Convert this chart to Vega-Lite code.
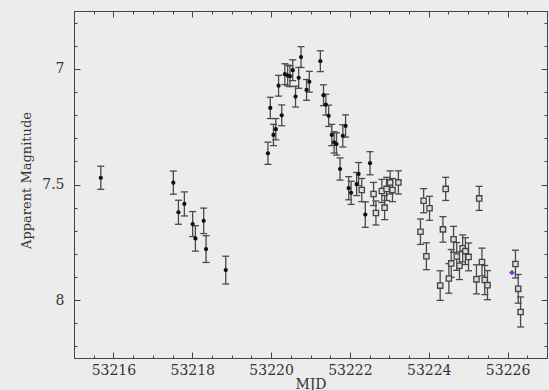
{
  "$schema": "https://vega.github.io/schema/vega-lite/v6.json",
  "width": 473,
  "height": 347,
  "autosize": "none",
  "padding": {"left": 74, "top": 11, "right": 2, "bottom": 32},
  "background": "#ececec",
  "config": {"view": {"stroke": null}},
  "datasets": {
    "obs": [
      {"mjd": 53215.68, "mag": 7.471, "lo": 7.421, "hi": 7.521, "kind": "filled"},
      {"mjd": 53217.52, "mag": 7.492, "lo": 7.442, "hi": 7.542, "kind": "filled"},
      {"mjd": 53217.65, "mag": 7.620, "lo": 7.568, "hi": 7.672, "kind": "filled"},
      {"mjd": 53217.80, "mag": 7.584, "lo": 7.532, "hi": 7.636, "kind": "filled"},
      {"mjd": 53218.01, "mag": 7.671, "lo": 7.617, "hi": 7.725, "kind": "filled"},
      {"mjd": 53218.08, "mag": 7.733, "lo": 7.678, "hi": 7.788, "kind": "filled"},
      {"mjd": 53218.29, "mag": 7.657, "lo": 7.602, "hi": 7.712, "kind": "filled"},
      {"mjd": 53218.35, "mag": 7.779, "lo": 7.721, "hi": 7.837, "kind": "filled"},
      {"mjd": 53218.85, "mag": 7.870, "lo": 7.810, "hi": 7.930, "kind": "filled"},
      {"mjd": 53219.92, "mag": 7.365, "lo": 7.317, "hi": 7.413, "kind": "filled"},
      {"mjd": 53219.98, "mag": 7.169, "lo": 7.123, "hi": 7.215, "kind": "filled"},
      {"mjd": 53220.06, "mag": 7.286, "lo": 7.240, "hi": 7.332, "kind": "filled"},
      {"mjd": 53220.12, "mag": 7.261, "lo": 7.215, "hi": 7.307, "kind": "filled"},
      {"mjd": 53220.19, "mag": 7.073, "lo": 7.028, "hi": 7.118, "kind": "filled"},
      {"mjd": 53220.27, "mag": 7.201, "lo": 7.156, "hi": 7.246, "kind": "filled"},
      {"mjd": 53220.35, "mag": 7.023, "lo": 6.978, "hi": 7.068, "kind": "filled"},
      {"mjd": 53220.42, "mag": 7.029, "lo": 6.984, "hi": 7.074, "kind": "filled"},
      {"mjd": 53220.48, "mag": 7.032, "lo": 6.987, "hi": 7.077, "kind": "filled"},
      {"mjd": 53220.55, "mag": 7.006, "lo": 6.961, "hi": 7.051, "kind": "filled"},
      {"mjd": 53220.62, "mag": 7.120, "lo": 7.075, "hi": 7.165, "kind": "filled"},
      {"mjd": 53220.70, "mag": 7.039, "lo": 6.994, "hi": 7.084, "kind": "filled"},
      {"mjd": 53220.76, "mag": 6.949, "lo": 6.904, "hi": 6.994, "kind": "filled"},
      {"mjd": 53220.90, "mag": 7.091, "lo": 7.046, "hi": 7.136, "kind": "filled"},
      {"mjd": 53220.97, "mag": 7.056, "lo": 7.011, "hi": 7.101, "kind": "filled"},
      {"mjd": 53221.25, "mag": 6.967, "lo": 6.922, "hi": 7.012, "kind": "filled"},
      {"mjd": 53221.33, "mag": 7.114, "lo": 7.069, "hi": 7.159, "kind": "filled"},
      {"mjd": 53221.39, "mag": 7.155, "lo": 7.110, "hi": 7.200, "kind": "filled"},
      {"mjd": 53221.46, "mag": 7.203, "lo": 7.157, "hi": 7.249, "kind": "filled"},
      {"mjd": 53221.54, "mag": 7.286, "lo": 7.240, "hi": 7.332, "kind": "filled"},
      {"mjd": 53221.60, "mag": 7.318, "lo": 7.272, "hi": 7.364, "kind": "filled"},
      {"mjd": 53221.66, "mag": 7.325, "lo": 7.277, "hi": 7.373, "kind": "filled"},
      {"mjd": 53221.75, "mag": 7.433, "lo": 7.385, "hi": 7.481, "kind": "filled"},
      {"mjd": 53221.82, "mag": 7.290, "lo": 7.242, "hi": 7.338, "kind": "filled"},
      {"mjd": 53221.89, "mag": 7.247, "lo": 7.199, "hi": 7.295, "kind": "filled"},
      {"mjd": 53221.97, "mag": 7.516, "lo": 7.466, "hi": 7.566, "kind": "filled"},
      {"mjd": 53222.03, "mag": 7.536, "lo": 7.486, "hi": 7.586, "kind": "filled"},
      {"mjd": 53222.17, "mag": 7.498, "lo": 7.448, "hi": 7.548, "kind": "filled"},
      {"mjd": 53222.22, "mag": 7.455, "lo": 7.405, "hi": 7.505, "kind": "filled"},
      {"mjd": 53222.39, "mag": 7.630, "lo": 7.575, "hi": 7.685, "kind": "filled"},
      {"mjd": 53222.51, "mag": 7.408, "lo": 7.358, "hi": 7.458, "kind": "filled"},
      {"mjd": 53222.30, "mag": 7.524, "lo": 7.474, "hi": 7.574, "kind": "open"},
      {"mjd": 53222.60, "mag": 7.541, "lo": 7.491, "hi": 7.591, "kind": "open"},
      {"mjd": 53222.66, "mag": 7.623, "lo": 7.571, "hi": 7.675, "kind": "open"},
      {"mjd": 53222.81, "mag": 7.528, "lo": 7.478, "hi": 7.578, "kind": "open"},
      {"mjd": 53222.88, "mag": 7.600, "lo": 7.548, "hi": 7.652, "kind": "open"},
      {"mjd": 53222.93, "mag": 7.519, "lo": 7.469, "hi": 7.569, "kind": "open"},
      {"mjd": 53223.02, "mag": 7.491, "lo": 7.441, "hi": 7.541, "kind": "open"},
      {"mjd": 53223.08, "mag": 7.524, "lo": 7.474, "hi": 7.574, "kind": "open"},
      {"mjd": 53223.23, "mag": 7.491, "lo": 7.441, "hi": 7.541, "kind": "open"},
      {"mjd": 53223.79, "mag": 7.704, "lo": 7.649, "hi": 7.759, "kind": "open"},
      {"mjd": 53223.87, "mag": 7.570, "lo": 7.518, "hi": 7.622, "kind": "open"},
      {"mjd": 53223.94, "mag": 7.810, "lo": 7.752, "hi": 7.868, "kind": "open"},
      {"mjd": 53224.02, "mag": 7.603, "lo": 7.551, "hi": 7.655, "kind": "open"},
      {"mjd": 53224.29, "mag": 7.937, "lo": 7.873, "hi": 8.001, "kind": "open"},
      {"mjd": 53224.36, "mag": 7.694, "lo": 7.639, "hi": 7.749, "kind": "open"},
      {"mjd": 53224.43, "mag": 7.519, "lo": 7.469, "hi": 7.569, "kind": "open"},
      {"mjd": 53224.51, "mag": 7.906, "lo": 7.842, "hi": 7.970, "kind": "open"},
      {"mjd": 53224.57, "mag": 7.841, "lo": 7.781, "hi": 7.901, "kind": "open"},
      {"mjd": 53224.63, "mag": 7.737, "lo": 7.681, "hi": 7.793, "kind": "open"},
      {"mjd": 53224.71, "mag": 7.811, "lo": 7.751, "hi": 7.871, "kind": "open"},
      {"mjd": 53224.78, "mag": 7.851, "lo": 7.791, "hi": 7.911, "kind": "open"},
      {"mjd": 53224.86, "mag": 7.776, "lo": 7.718, "hi": 7.834, "kind": "open"},
      {"mjd": 53224.93, "mag": 7.788, "lo": 7.730, "hi": 7.846, "kind": "open"},
      {"mjd": 53225.01, "mag": 7.813, "lo": 7.753, "hi": 7.873, "kind": "open"},
      {"mjd": 53225.21, "mag": 7.910, "lo": 7.847, "hi": 7.973, "kind": "open"},
      {"mjd": 53225.28, "mag": 7.560, "lo": 7.508, "hi": 7.612, "kind": "open"},
      {"mjd": 53225.35, "mag": 7.835, "lo": 7.775, "hi": 7.895, "kind": "open"},
      {"mjd": 53225.42, "mag": 7.913, "lo": 7.850, "hi": 7.976, "kind": "open"},
      {"mjd": 53225.49, "mag": 7.935, "lo": 7.872, "hi": 7.998, "kind": "open"},
      {"mjd": 53226.20, "mag": 7.844, "lo": 7.784, "hi": 7.904, "kind": "open"},
      {"mjd": 53226.27, "mag": 7.951, "lo": 7.889, "hi": 8.013, "kind": "open"},
      {"mjd": 53226.33, "mag": 8.051, "lo": 7.986, "hi": 8.116, "kind": "open"}
    ],
    "extra": [
      {"mjd": 53226.11, "mag": 7.881}
    ]
  },
  "resolve": {"axis": {"x": "independent", "y": "independent"}},
  "layer": [
    {
      "data": {"name": "extra"},
      "mark": {"type": "point", "color": "#9b2fd8", "shape": "cross", "filled": true, "size": 22},
      "encoding": {
        "x": {"field": "mjd", "type": "quantitative", "scale": {"domain": [53215, 53227], "nice": false, "zero": false}, "title": "MJD",
          "axis": {
            "orient": "bottom",
            "tickCount": 6,
            "gridColor": "#ececec",
            "domainColor": "#444444",
            "tickColor": "#444444", "tickSize": -6,
            "labelPadding": 11,
            "format": "d",
            "labelFont": "DejaVu Serif", "labelFontSize": 14, "labelColor": "#333333",
            "titleFont": "DejaVu Serif", "titleFontSize": 14, "titleFontWeight": "normal", "titleColor": "#333333",
            "titleX": 236.5,
            "titleY": 30,
            "titleBaseline": "alphabetic"
          }},
        "y": {"field": "mag", "type": "quantitative", "scale": {"domain": [6.75, 8.25], "nice": false, "zero": false, "reverse": true}, "title": "Apparent Magnitude",
          "axis": {
            "orient": "left",
            "tickCount": 3,
            "gridColor": "#ececec",
            "domainColor": "#444444",
            "tickColor": "#444444", "tickSize": -6,
            "labelPadding": 16,
            "format": ".1~f",
            "labelFont": "DejaVu Serif", "labelFontSize": 14, "labelColor": "#333333",
            "titleFont": "DejaVu Serif", "titleFontSize": 13, "titleFontWeight": "normal", "titleColor": "#333333",
            "titleAngle": -90,
            "titleX": -44,
            "titleY": 169,
            "titleBaseline": "alphabetic",
            "titleAlign": "center"
          }}
      }
    },
    {
      "data": {"name": "extra"},
      "mark": {"type": "point", "color": "#9b2fd8", "shape": "cross", "filled": true, "size": 22},
      "encoding": {
        "x": {"field": "mjd", "type": "quantitative",
          "axis": {"orient": "top", "tickCount": 6, "domainColor": "#444444", "tickColor": "#444444", "tickSize": -6, "labels": false, "title": null}},
        "y": {"field": "mag", "type": "quantitative",
          "axis": {"orient": "right", "tickCount": 3, "domainColor": "#444444", "tickColor": "#444444", "tickSize": -6, "labels": false, "title": null}}
      }
    },
    {
      "data": {"name": "extra"},
      "mark": {"type": "point", "color": "#9b2fd8", "shape": "cross", "filled": true, "size": 22},
      "encoding": {
        "x": {"field": "mjd", "type": "quantitative",
          "axis": {"orient": "bottom", "tickCount": 24, "domainColor": "#444444", "tickColor": "#444444", "tickSize": -3, "labels": false, "title": null}},
        "y": {"field": "mag", "type": "quantitative",
          "axis": {"orient": "left", "tickCount": 15, "domainColor": "#444444", "tickColor": "#444444", "tickSize": -3, "labels": false, "title": null}}
      }
    },
    {
      "data": {"name": "extra"},
      "mark": {"type": "point", "color": "#9b2fd8", "shape": "cross", "filled": true, "size": 22},
      "encoding": {
        "x": {"field": "mjd", "type": "quantitative",
          "axis": {"orient": "top", "tickCount": 24, "domainColor": "#444444", "tickColor": "#444444", "tickSize": -3, "labels": false, "title": null}},
        "y": {"field": "mag", "type": "quantitative",
          "axis": {"orient": "right", "tickCount": 15, "domainColor": "#444444", "tickColor": "#444444", "tickSize": -3, "labels": false, "title": null}}
      }
    },
    {
      "data": {"name": "obs"},
      "mark": {"type": "rule", "strokeWidth": 1.3, "color": "#4a4a4a"},
      "encoding": {
        "x": {"field": "mjd", "type": "quantitative", "axis": null},
        "y": {"field": "lo", "type": "quantitative", "axis": null},
        "y2": {"field": "hi"}
      }
    },
    {
      "data": {"name": "obs"},
      "mark": {"type": "point", "shape": "stroke", "filled": false, "size": 49, "strokeWidth": 1.3, "stroke": "#4a4a4a", "opacity": 1},
      "encoding": {
        "x": {"field": "mjd", "type": "quantitative", "axis": null},
        "y": {"field": "lo", "type": "quantitative", "axis": null}
      }
    },
    {
      "data": {"name": "obs"},
      "mark": {"type": "point", "shape": "stroke", "filled": false, "size": 49, "strokeWidth": 1.3, "stroke": "#4a4a4a", "opacity": 1},
      "encoding": {
        "x": {"field": "mjd", "type": "quantitative", "axis": null},
        "y": {"field": "hi", "type": "quantitative", "axis": null}
      }
    },
    {
      "data": {"name": "obs"},
      "transform": [{"filter": "datum.kind == 'filled'"}],
      "mark": {"type": "point", "shape": "circle", "filled": true, "size": 18, "color": "#111111", "opacity": 1},
      "encoding": {
        "x": {"field": "mjd", "type": "quantitative", "axis": null},
        "y": {"field": "mag", "type": "quantitative", "axis": null}
      }
    },
    {
      "data": {"name": "obs"},
      "transform": [{"filter": "datum.kind == 'open'"}],
      "mark": {"type": "point", "shape": "square", "filled": true, "fill": "#dcdcdc", "size": 28, "stroke": "#444444", "strokeWidth": 1.3, "opacity": 1},
      "encoding": {
        "x": {"field": "mjd", "type": "quantitative", "axis": null},
        "y": {"field": "mag", "type": "quantitative", "axis": null}
      }
    }
  ]
}
